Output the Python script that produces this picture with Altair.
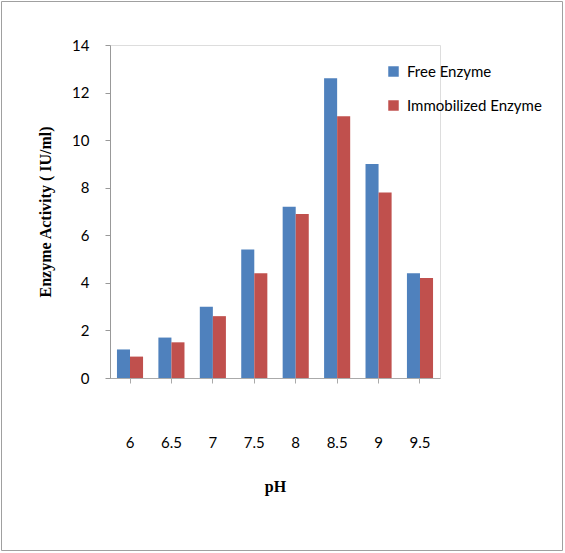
import altair as alt
import pandas as pd

ph = ["6", "6.5", "7", "7.5", "8", "8.5", "9", "9.5"]
free = [1.2, 1.7, 3.0, 5.4, 7.2, 12.6, 9.0, 4.4]
immob = [0.9, 1.5, 2.6, 4.4, 6.9, 11.0, 7.8, 4.2]
series = ["Free Enzyme", "Immobilized Enzyme"]
colors = ["#4F81BD", "#C0504D"]

rows = []
for p, f, i in zip(ph, free, immob):
    rows.append({"pH": p, "Series": series[0], "Activity": f})
    rows.append({"pH": p, "Series": series[1], "Activity": i})
df = pd.DataFrame(rows)

W, H = 330, 333
PL, PT = 110, 45

bars = alt.Chart(df).mark_bar(stroke=None).encode(
    x=alt.X("pH:N", sort=ph,
            scale=alt.Scale(paddingInner=0.37, paddingOuter=0.168),
            axis=alt.Axis(title="pH", labelAngle=0, labelPadding=52,
                          labelFont="Lato", labelFontSize=15, labelColor="#000",
                          titleFont="Liberation Serif", titleFontSize=16,
                          titleFontWeight="bold", titlePadding=28,
                          domainColor="#AAAAAA", tickColor="#AAAAAA",
                          tickSize=5)),
    xOffset=alt.XOffset("Series:N", sort=series),
    y=alt.Y("Activity:Q",
            scale=alt.Scale(domain=[0, 14]),
            axis=alt.Axis(title="Enzyme Activity ( IU/ml)", values=list(range(0, 15, 2)),
                          grid=False, labelFont="Lato", labelFontSize=15,
                          labelColor="#000", labelPadding=16,
                          titleFont="Liberation Serif", titleFontSize=16,
                          titleFontWeight="bold", titlePadding=18,
                          domainColor="#999999", tickColor="#999999", tickSize=5)),
    color=alt.Color("Series:N", sort=series,
                    scale=alt.Scale(domain=series, range=colors),
                    legend=alt.Legend(title=None, orient="none", legendX=276, legendY=19,
                                      symbolType="square", symbolSize=110,
                                      symbolStrokeWidth=0,
                                      labelFont="Lato", labelFontSize=15,
                                      labelColor="#000", rowPadding=18,
                                      labelOffset=6)),
)

frame = alt.Chart(pd.DataFrame({"k": [0]})).mark_rect(
    fill=None, stroke="#A0A0A0", strokeWidth=1
).encode(
    x=alt.value(-PL + 1.5), x2=alt.value(565 - PL - 2.5),
    y=alt.value(-PT + 1.5), y2=alt.value(553 - PT - 2.5),
)

chart = alt.layer(frame, bars).properties(
    width=W, height=H,
    autosize=alt.AutoSizeParams(type="none"),
    padding={"left": PL, "top": PT, "right": 565 - PL - W, "bottom": 553 - PT - H},
).configure_view(stroke=None).configure(background="white")

chart.save("out.html", embed_options={"renderer": "svg", "actions": False})
